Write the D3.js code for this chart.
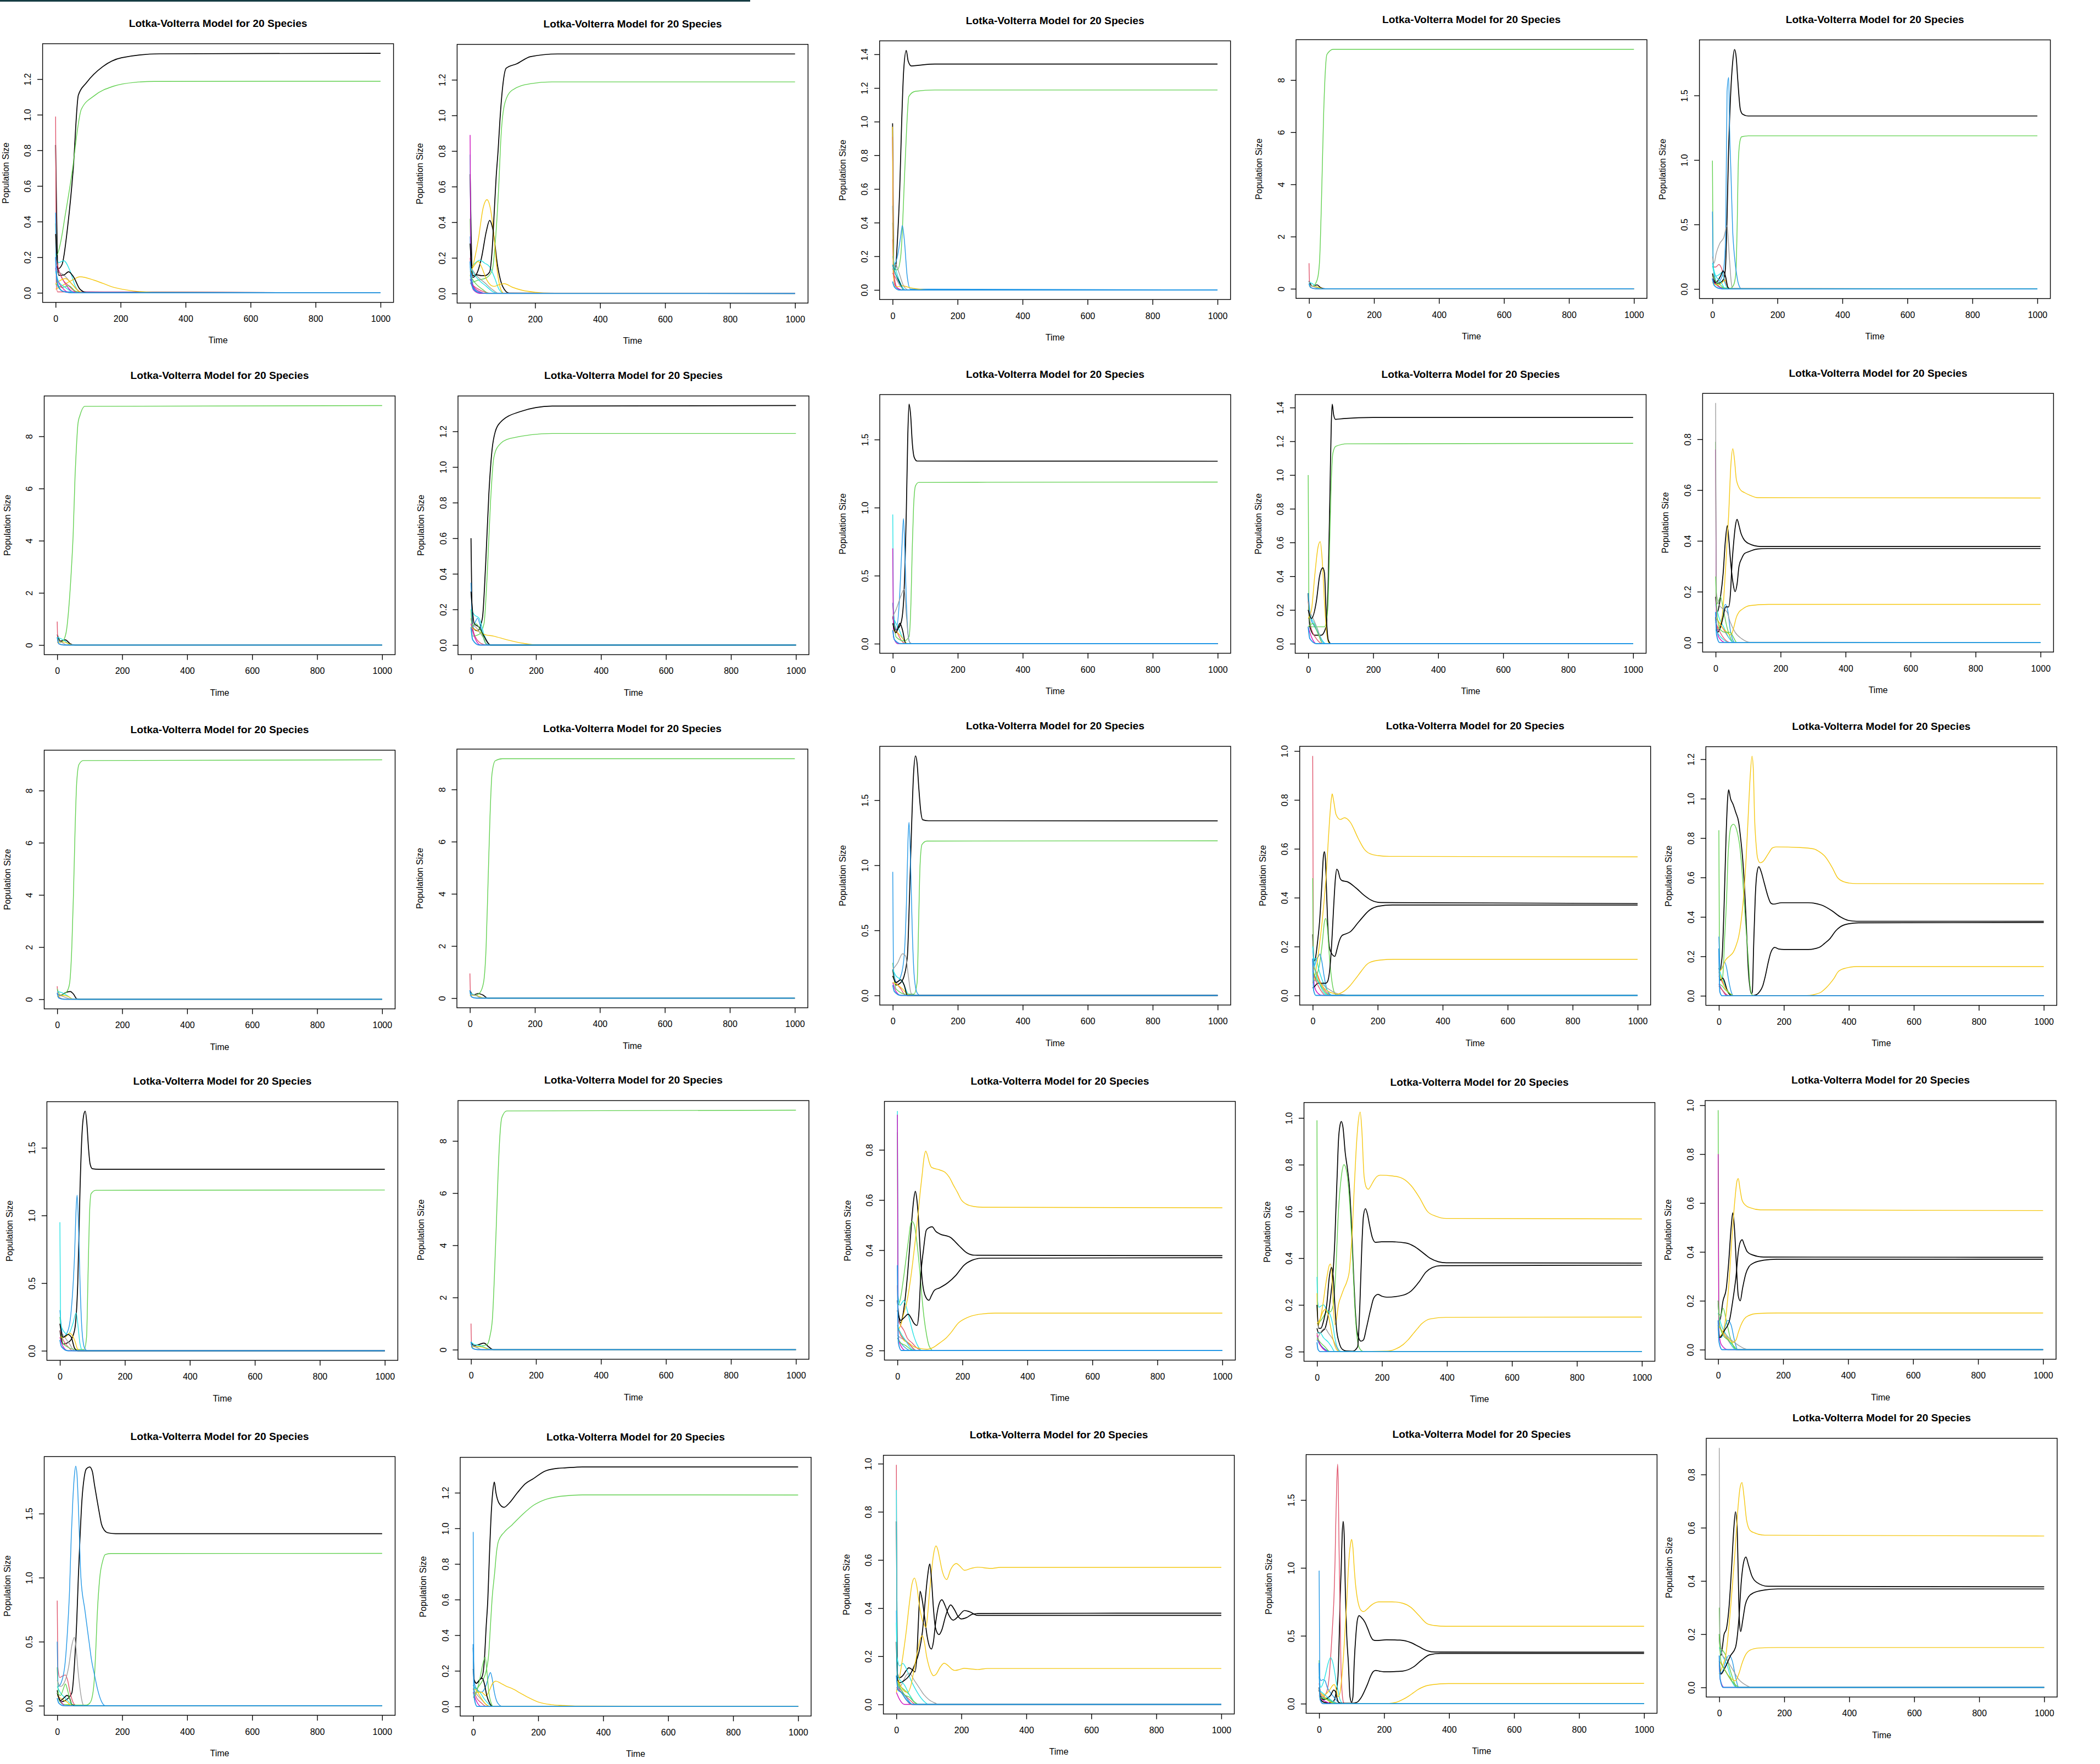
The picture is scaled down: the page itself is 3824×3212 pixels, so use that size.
<!DOCTYPE html>
<html><head><meta charset="utf-8">
<script src="https://cdn.jsdelivr.net/npm/d3@7"></script>
<style>body{margin:0;background:#fff;} svg text{font-family:"Liberation Sans",Arial,sans-serif;fill:#000;}</style>
</head><body>
<svg id="chart" width="3824" height="3212"></svg>
<script>
// ---------- shared values ----------
const titleText = "Lotka-Volterra Model for 20 Species";
const xLabel = "Time";
const yLabel = "Population Size";
const timeTicks = [0, 200, 400, 600, 800, 1000];
// R 4.x default palette, index 1..8
const palette = ["#000000", "#DF536B", "#61D04F", "#2297E6", "#28E2E5", "#CD0BBC", "#F5C710", "#9E9E9E"];

// ---------- data: each series = [colourIndex, [t, y, t, y, ...]] ----------
const panel01 = [
 [1,[0,0.83,8,0.135,20,0.16,37,0.37,54,0.69,70,1.11,95,1.18,145,1.27,203,1.32,320,1.342,1000,1.345]],
 [2,[0,0.99,2,0.05,6,0.005,1000,0]],
 [3,[0,0.39,3,0.21,15,0.28,29,0.43,54,0.72,66,0.9,79,1.03,120,1.108,178,1.16,245,1.182,303,1.187,1000,1.188]],
 [4,[0,0.45,2,0.12,8,0.03,30,0.005,1000,0]],
 [5,[0,0.22,10,0.17,25,0.18,45,0.12,60,0.04,75,0.003,1000,0]],
 [6,[0,0.16,10,0.12,30,0.05,55,0.005,1000,0]],
 [7,[0,0.02,30,0.05,50,0.07,75,0.09,120,0.07,180,0.03,240,0.01,300,0.003,1000,0]],
 [8,[0,0.12,25,0.1,50,0.05,80,0.003,1000,0]],
 [1,[0,0.33,10,0.098,25,0.1,40,0.118,55,0.09,75,0.02,95,0.002,1000,0]],
 [2,[0,0.2,15,0.1,40,0.04,70,0.002,1000,0]],
 [3,[0,0.05,20,0.03,40,0.04,60,0.01,80,0,1000,0]],
 [7,[0,0.05,15,0.07,30,0.08,50,0.05,70,0.01,90,0,1000,0]],
 [6,[0,0.14,5,0.08,20,0.03,45,0,1000,0]],
 [5,[0,0.12,10,0.06,30,0.03,60,0,1000,0]],
 [4,[0,0.2,5,0.06,20,0.01,50,0,1000,0]]
];
const panel02 = [
 [1,[0,0.67,8,0.09,20,0.11,35,0.2,50,0.35,60,0.41,70,0.36,85,0.15,100,0.04,120,0.002,1000,0]],
 [2,[0,0.2,5,0.05,20,0.01,40,0,1000,0]],
 [3,[0,0.42,5,0.063,25,0.075,50,0.088,68,0.13,78,0.3,88,0.6,95,0.88,107,1.07,128,1.14,186,1.178,252,1.188,1000,1.188]],
 [4,[0,0.32,4,0.1,15,0.02,40,0,1000,0]],
 [5,[0,0.78,3,0.15,15,0.17,30,0.187,45,0.17,60,0.15,75,0.09,90,0.02,105,0,1000,0]],
 [6,[0,0.89,2,0.1,10,0.02,30,0,1000,0]],
 [7,[0,0.1,5,0.13,25,0.3,40,0.48,52,0.527,62,0.48,72,0.35,82,0.15,95,0.02,105,0,1000,0]],
 [8,[0,0.15,20,0.1,45,0.06,70,0.02,90,0,1000,0]],
 [1,[0,0.28,8,0.1,20,0.105,35,0.1,45,0.1,60,0.12,68,0.25,74,0.45,80,0.65,86,0.8,92,0.98,99,1.14,111,1.265,144,1.29,186,1.33,269,1.345,1000,1.345]],
 [7,[0,0.12,10,0.15,25,0.18,35,0.15,50,0.08,65,0.045,75,0.04,90,0.05,105,0.055,130,0.035,160,0.018,200,0.007,250,0.002,1000,0]],
 [5,[0,0.15,15,0.1,30,0.07,50,0.04,70,0.01,90,0,1000,0]],
 [2,[0,0.06,20,0.03,50,0.005,70,0,1000,0]],
 [3,[0,0.1,15,0.06,40,0.02,60,0,1000,0]],
 [6,[0,0.08,10,0.04,30,0.01,50,0,1000,0]],
 [4,[0,0.18,4,0.05,20,0.01,50,0,1000,0]]
];
const panel03 = [
 [1,[0,0.99,3,0.15,8,0.12,15,0.3,22,0.6,28,1.0,34,1.3,42,1.423,48,1.36,58,1.331,80,1.335,130,1.342,1000,1.342]],
 [2,[0,0.3,5,0.08,15,0.01,30,0,1000,0]],
 [3,[0,0.4,6,0.12,15,0.12,25,0.2,30,0.35,36,0.64,43,0.95,50,1.15,70,1.18,130,1.188,1000,1.188]],
 [4,[0,0.5,4,0.15,15,0.2,25,0.32,30,0.383,36,0.3,45,0.08,55,0.005,1000,0]],
 [5,[0,0.2,10,0.12,20,0.06,40,0,1000,0]],
 [6,[0,0.91,2,0.1,10,0.02,30,0,1000,0]],
 [7,[0,0.97,2,0.1,8,0.02,20,0.02,30,0.025,50,0.015,80,0.005,110,0.001,1000,0]],
 [8,[0,0.12,10,0.15,20,0.1,35,0.02,50,0,1000,0]],
 [1,[0,0.15,10,0.09,20,0.05,35,0,1000,0]],
 [2,[0,0.1,10,0.07,25,0.02,40,0,1000,0]],
 [5,[0,0.15,8,0.1,20,0.04,40,0,1000,0]],
 [4,[0,0.05,5,0.02,20,0,1000,0]]
];
const panel04 = [
 [1,[0,0.3,10,0.1,25,0.15,35,0.05,50,0,1000,0]],
 [2,[0,0.98,2,0.1,10,0.02,30,0,1000,0]],
 [3,[0,0.2,10,0.1,20,0.2,28,0.5,33,1.2,38,3.2,45,6.7,50,8.3,55,8.98,75,9.18,1000,9.18]],
 [5,[0,0.25,10,0.2,20,0.1,35,0,1000,0]],
 [7,[0,0.1,15,0.1,30,0.05,45,0,1000,0]],
 [8,[0,0.15,15,0.08,30,0,1000,0]],
 [4,[0,0.2,5,0.05,20,0,1000,0]]
];
const panel05 = [
 [1,[0,0.08,10,0.04,25,0.05,35,0.08,40,0.16,45,0.56,49,1.005,55,1.45,62,1.75,68,1.857,73,1.8,78,1.62,86,1.39,93,1.355,110,1.341,1000,1.341]],
 [2,[0,0.17,10,0.17,20,0.19,28,0.16,40,0.05,55,0,1000,0]],
 [3,[0,0.995,2,0.2,10,0.05,30,0.01,55,0.005,65,0.03,72,0.12,76,0.475,80,1.005,85,1.15,90,1.18,110,1.187,1000,1.187]],
 [4,[0,0.6,3,0.15,15,0.05,30,0.1,38,0.25,41,0.475,45,1.53,50,1.64,53,1.23,57,0.9,62,0.47,68,0.25,74,0.12,80,0.04,89,0.002,1000,0]],
 [5,[0,0.18,10,0.1,20,0.11,30,0.13,38,0.05,50,0,1000,0]],
 [6,[0,0.1,10,0.04,25,0.01,40,0,1000,0]],
 [7,[0,0.05,15,0.03,30,0.05,40,0.07,48,0.01,55,0,1000,0]],
 [8,[0,0.25,5,0.2,12,0.28,22,0.35,35,0.4,45,0.49,52,0.25,58,0.05,62,0.005,1000,0]],
 [1,[0,0.12,10,0.05,25,0.1,33,0.14,40,0.1,48,0.01,55,0,1000,0]],
 [5,[0,0.2,10,0.1,25,0.06,40,0,1000,0]],
 [3,[0,0.1,10,0.06,25,0.03,40,0,1000,0]],
 [4,[0,0.08,5,0.03,20,0.005,40,0,1000,0]]
];
const panel06 = [
 [1,[0,0.4,10,0.15,25,0.2,40,0.05,55,0,1000,0]],
 [2,[0,0.9,2,0.1,10,0.02,30,0,1000,0]],
 [3,[0,0.3,10,0.1,20,0.2,29,0.6,38,1.8,45,3.2,49,4.2,55,6.5,58,7.3,64,8.5,70,8.8,85,9.15,1000,9.18]],
 [5,[0,0.3,10,0.25,25,0.15,40,0,1000,0]],
 [7,[0,0.1,20,0.12,35,0.05,50,0,1000,0]],
 [8,[0,0.2,15,0.1,30,0,1000,0]],
 [4,[0,0.3,5,0.05,20,0,1000,0]]
];
const panel07 = [
 [1,[0,0.6,5,0.1,20,0.08,35,0.15,45,0.45,55,0.85,65,1.1,75,1.2,90,1.25,150,1.31,250,1.342,1000,1.345]],
 [2,[0,0.15,10,0.06,30,0.01,50,0,1000,0]],
 [3,[0,0.2,5,0.05,25,0.06,40,0.12,50,0.4,60,0.8,70,1.05,85,1.12,120,1.16,250,1.188,1000,1.188]],
 [4,[0,0.35,5,0.1,20,0.15,30,0.1,45,0.01,60,0,1000,0]],
 [5,[0,0.2,10,0.17,25,0.15,40,0.06,60,0,1000,0]],
 [6,[0,0.12,10,0.05,30,0,1000,0]],
 [7,[0,0.1,20,0.08,40,0.06,70,0.05,110,0.03,160,0.01,210,0,1000,0]],
 [8,[0,0.12,15,0.1,35,0.05,60,0,1000,0]],
 [1,[0,0.3,10,0.12,25,0.1,40,0.05,60,0,1000,0]],
 [3,[0,0.1,15,0.12,30,0.08,50,0,1000,0]],
 [4,[0,0.1,5,0.03,25,0,1000,0]]
];
const panel08 = [
 [1,[0,0.2,10,0.1,25,0.15,33,0.3,38,0.6,42,1.0,46,1.5,50,1.76,55,1.68,60,1.48,66,1.37,75,1.342,1000,1.341]],
 [2,[0,0.2,8,0.12,20,0.05,40,0,1000,0]],
 [3,[0,0.3,10,0.05,35,0.02,50,0.05,56,0.3,60,0.7,64,1.0,70,1.16,80,1.185,1000,1.188]],
 [4,[0,0.3,10,0.1,20,0.3,28,0.7,33,0.92,37,0.7,42,0.3,48,0.05,55,0,1000,0]],
 [5,[0,0.95,2,0.2,10,0.15,20,0.1,35,0.02,50,0,1000,0]],
 [6,[0,0.7,2,0.05,15,0,1000,0]],
 [7,[0,0.1,15,0.08,30,0.04,45,0,1000,0]],
 [8,[0,0.2,10,0.25,25,0.35,35,0.4,42,0.2,50,0.02,60,0,1000,0]],
 [1,[0,0.15,10,0.08,22,0.15,30,0.1,40,0,1000,0]],
 [4,[0,0.1,5,0.03,25,0,1000,0]]
];
const panel09 = [
 [1,[0,0.3,5,0.1,20,0.05,40,0.05,55,0.1,62,0.4,67,0.9,71,1.3,74,1.42,78,1.36,84,1.33,110,1.335,200,1.341,1000,1.341]],
 [2,[0,0.25,8,0.1,25,0.03,45,0,1000,0]],
 [3,[0,1.0,2,0.2,10,0.1,30,0.1,50,0.1,60,0.2,65,0.5,70,0.9,76,1.13,85,1.17,120,1.185,1000,1.188]],
 [4,[0,0.3,8,0.15,20,0.1,35,0.05,50,0,1000,0]],
 [5,[0,0.2,10,0.15,25,0.1,40,0.03,55,0,1000,0]],
 [6,[0,0.1,10,0.04,25,0,1000,0]],
 [7,[0,0.15,10,0.2,20,0.4,30,0.57,37,0.605,43,0.5,50,0.25,57,0.06,65,0,1000,0]],
 [8,[0,0.2,15,0.15,30,0.08,45,0,1000,0]],
 [1,[0,0.2,10,0.15,25,0.25,35,0.4,45,0.45,50,0.42,56,0.15,62,0.02,70,0,1000,0]],
 [3,[0,0.1,15,0.12,30,0.06,45,0,1000,0]],
 [4,[0,0.1,5,0.03,25,0,1000,0]]
];
const panel10 = [
 [1,[0,0.18,5,0.12,15,0.18,23,0.27,30,0.4,36,0.46,41,0.4,46,0.32,54,0.23,60,0.2,66,0.23,72,0.3,80,0.33,89,0.35,101,0.357,130,0.368,160,0.37,1000,0.37]],
 [2,[0,0.1,10,0.08,25,0.05,40,0.02,55,0,1000,0]],
 [3,[0,0.79,2,0.15,8,0.16,15,0.18,25,0.12,35,0.06,45,0.02,55,0,1000,0]],
 [4,[0,0.05,10,0.05,20,0.1,30,0.15,38,0.12,45,0.05,55,0.005,60,0,1000,0]],
 [5,[0,0.15,10,0.1,25,0.06,40,0.02,55,0,1000,0]],
 [6,[0,0.76,2,0.08,10,0.02,30,0,1000,0]],
 [7,[0,0.05,10,0.06,20,0.1,31,0.3,40,0.5,47,0.7,53,0.763,58,0.72,64,0.64,77,0.6,89,0.59,105,0.58,130,0.57,1000,0.569]],
 [8,[0,0.943,2,0.2,10,0.15,25,0.13,35,0.12,45,0.08,60,0.04,80,0.015,105,0.001,1000,0]],
 [1,[0,0.1,5,0.04,15,0.06,23,0.1,31,0.14,40,0.14,46,0.2,50,0.3,56,0.4,61,0.46,66,0.485,72,0.46,78,0.43,85,0.41,101,0.39,138,0.378,1000,0.378]],
 [7,[0,0.1,10,0.08,20,0.06,35,0.04,45,0.03,50,0.035,56,0.06,64,0.1,72,0.12,81,0.13,105,0.145,163,0.15,1000,0.15]],
 [2,[0,0.08,10,0.05,30,0.01,45,0,1000,0]],
 [3,[0,0.26,5,0.1,15,0.05,30,0.04,45,0.04,55,0.02,65,0,1000,0]],
 [5,[0,0.05,10,0.03,25,0.01,40,0,1000,0]],
 [4,[0,0.12,3,0.03,12,0,1000,0]]
];
const panel11 = [
 [1,[0,0.2,10,0.15,25,0.25,40,0.3,50,0.2,60,0.02,70,0,1000,0]],
 [2,[0,0.5,3,0.1,15,0.02,30,0,1000,0]],
 [3,[0,0.4,10,0.15,20,0.2,30,0.3,38,0.6,45,2.0,50,4.0,55,6.5,60,8.3,67,9.0,80,9.15,1000,9.18]],
 [5,[0,0.3,15,0.25,30,0.15,45,0.02,60,0,1000,0]],
 [7,[0,0.1,20,0.15,35,0.1,50,0,1000,0]],
 [8,[0,0.2,15,0.12,30,0.05,45,0,1000,0]],
 [4,[0,0.25,5,0.05,20,0,1000,0]]
];
const panel12 = [
 [1,[0,0.3,10,0.12,25,0.18,40,0.12,55,0,1000,0]],
 [2,[0,0.95,2,0.1,10,0.02,30,0,1000,0]],
 [3,[0,0.2,15,0.1,30,0.2,42,0.6,50,2.0,56,4.5,62,7.0,68,8.6,78,9.1,100,9.18,1000,9.18]],
 [5,[0,0.2,10,0.15,30,0.05,45,0,1000,0]],
 [7,[0,0.1,15,0.12,30,0.06,45,0,1000,0]],
 [8,[0,0.15,20,0.1,35,0,1000,0]],
 [4,[0,0.3,5,0.05,20,0,1000,0]]
];
const panel13 = [
 [1,[0,0.2,10,0.08,25,0.1,35,0.15,45,0.3,52,0.8,58,1.3,64,1.7,70,1.84,75,1.78,80,1.6,86,1.42,92,1.35,110,1.342,1000,1.341]],
 [2,[0,0.15,10,0.1,25,0.05,40,0,1000,0]],
 [3,[0,0.25,10,0.05,40,0.01,65,0.01,75,0.1,80,0.6,84,1.0,90,1.16,105,1.186,1000,1.188]],
 [4,[0,0.95,2,0.2,12,0.1,25,0.15,35,0.3,42,0.7,47,1.2,50,1.33,54,1.1,60,0.5,66,0.15,75,0.02,85,0,1000,0]],
 [5,[0,0.2,10,0.15,25,0.12,35,0.08,45,0.02,55,0,1000,0]],
 [6,[0,0.1,10,0.03,25,0,1000,0]],
 [7,[0,0.1,15,0.08,30,0.05,45,0.01,55,0,1000,0]],
 [8,[0,0.2,15,0.25,30,0.32,40,0.3,48,0.15,56,0.02,65,0,1000,0]],
 [1,[0,0.15,10,0.1,25,0.12,35,0.08,45,0,1000,0]],
 [4,[0,0.08,5,0.03,25,0,1000,0]]
];
const panel14 = [
 [1,[0,0.25,4,0.14,8,0.15,15,0.22,21,0.3,28,0.45,33,0.57,36,0.588,39,0.56,42,0.45,46,0.3,51,0.2,59,0.17,68,0.16,75,0.19,81,0.22,90,0.245,98,0.25,115,0.26,141,0.3,176,0.35,202,0.365,245,0.37,1000,0.37]],
 [2,[0,0.98,2,0.12,10,0.1,25,0.05,45,0.01,60,0,1000,0]],
 [3,[0,0.48,3,0.06,12,0.08,20,0.12,30,0.22,36,0.3,40,0.315,45,0.28,52,0.15,60,0.05,70,0.005,80,0,1000,0]],
 [4,[0,0.2,5,0.12,12,0.15,18,0.16,22,0.17,28,0.14,35,0.08,45,0.02,60,0,1000,0]],
 [5,[0,0.15,10,0.15,20,0.1,30,0.06,45,0.02,60,0,1000,0]],
 [6,[0,0.15,5,0.04,15,0.01,30,0,1000,0]],
 [7,[0,0.05,6,0.08,12,0.12,20,0.2,29,0.3,36,0.4,42,0.5,46,0.59,52,0.72,57,0.8,60,0.825,64,0.8,72,0.74,85,0.72,98,0.727,115,0.71,141,0.64,158,0.6,176,0.58,202,0.572,236,0.569,1000,0.567]],
 [8,[0,0.06,10,0.06,25,0.05,45,0.03,70,0.01,90,0.004,120,0,1000,0]],
 [1,[0,0.03,8,0.04,15,0.05,25,0.05,40,0.05,45,0.055,52,0.1,58,0.2,64,0.35,70,0.48,74,0.517,78,0.51,84,0.48,90,0.47,107,0.465,133,0.44,158,0.41,180,0.39,210,0.38,1000,0.376]],
 [7,[0,0.12,8,0.1,20,0.06,35,0.03,50,0.015,65,0.008,75,0.005,90,0.012,115,0.04,130,0.065,150,0.1,165,0.125,176,0.135,210,0.145,250,0.148,1000,0.148]],
 [2,[0,0.1,10,0.06,25,0.02,40,0,1000,0]],
 [3,[0,0.1,10,0.07,25,0.04,40,0.01,55,0,1000,0]],
 [5,[0,0.2,8,0.1,20,0.05,35,0.01,50,0,1000,0]],
 [4,[0,0.15,3,0.02,10,0,1000,0]]
];
const panel15 = [
 [1,[0,0.14,3,0.13,10,0.2,16,0.45,22,0.8,27,1.0,30,1.045,36,1.0,44,0.97,52,0.93,61,0.88,67,0.8,73,0.7,78,0.58,82,0.45,86,0.3,90,0.15,95,0.05,100,0.01,103,0.02,107,0.25,112,0.5,117,0.62,123,0.655,130,0.63,140,0.57,152,0.5,160,0.47,168,0.465,193,0.472,275,0.472,316,0.46,349,0.43,374,0.4,399,0.382,423,0.378,1000,0.378]],
 [2,[0,0.1,10,0.07,20,0.04,35,0.005,45,0,1000,0]],
 [3,[0,0.84,2,0.1,8,0.08,12,0.1,18,0.3,24,0.5,28,0.7,32,0.8,38,0.86,45,0.87,55,0.84,65,0.75,72,0.62,77,0.5,84,0.33,90,0.2,96,0.05,102,0.005,110,0,1000,0]],
 [4,[0,0.3,5,0.13,12,0.15,18,0.17,24,0.14,30,0.08,38,0.02,45,0,1000,0]],
 [5,[0,0.14,8,0.1,20,0.05,35,0.01,45,0,1000,0]],
 [6,[0,0.06,10,0.03,25,0,1000,0]],
 [7,[0,0.12,10,0.14,20,0.18,32,0.2,44,0.22,52,0.25,61,0.3,70,0.4,77,0.52,84,0.7,90,0.9,96,1.1,102,1.215,106,1.15,110,0.9,115,0.76,119,0.7,127,0.675,135,0.68,152,0.72,165,0.75,176,0.755,250,0.752,292,0.745,310,0.73,325,0.71,349,0.65,365,0.6,385,0.578,400,0.572,423,0.569,1000,0.568]],
 [8,[0,0.05,10,0.03,20,0.01,35,0,1000,0]],
 [1,[0,0.08,6,0.08,12,0.09,18,0.07,25,0.03,35,0.005,45,0,100,0,115,0.005,125,0.02,135,0.05,143,0.1,152,0.17,160,0.22,172,0.245,185,0.237,200,0.235,275,0.235,308,0.245,325,0.265,342,0.29,360,0.33,374,0.35,399,0.365,430,0.37,1000,0.372]],
 [7,[0,0.12,10,0.08,20,0.04,35,0.01,50,0,270,0.001,290,0.005,316,0.02,330,0.04,341,0.06,355,0.09,366,0.12,380,0.135,390,0.14,423,0.148,1000,0.148]],
 [3,[0,0.06,10,0.05,20,0.03,35,0.01,45,0,1000,0]],
 [2,[0,0.05,10,0.03,30,0,1000,0]],
 [4,[0,0.24,3,0.02,10,0,1000,0]]
];
const panel16 = [
 [1,[0,0.15,10,0.05,30,0.07,45,0.15,55,0.5,62,1.2,68,1.6,74,1.75,78,1.77,83,1.68,88,1.5,93,1.38,100,1.345,120,1.341,1000,1.341]],
 [2,[0,0.15,10,0.08,25,0.03,40,0,1000,0]],
 [3,[0,0.25,10,0.05,50,0.01,75,0.01,82,0.1,87,0.6,91,1.0,96,1.16,110,1.186,1000,1.188]],
 [4,[0,0.3,10,0.1,25,0.15,35,0.3,45,0.7,50,1.05,53,1.15,57,0.95,62,0.5,68,0.15,76,0.02,85,0,1000,0]],
 [5,[0,0.95,2,0.2,10,0.15,25,0.12,40,0.2,50,0.28,55,0.2,62,0.05,70,0,1000,0]],
 [6,[0,0.1,10,0.03,25,0,1000,0]],
 [7,[0,0.1,15,0.1,30,0.13,45,0.08,55,0.01,65,0,1000,0]],
 [8,[0,0.15,15,0.1,30,0.05,45,0,1000,0]],
 [1,[0,0.2,10,0.1,25,0.12,35,0.1,45,0.02,55,0,1000,0]],
 [4,[0,0.08,5,0.03,25,0,1000,0]]
];
const panel17 = [
 [1,[0,0.3,10,0.15,25,0.2,40,0.25,55,0.1,70,0,1000,0]],
 [2,[0,1.0,2,0.1,10,0.02,30,0,1000,0]],
 [3,[0,0.2,15,0.1,35,0.15,50,0.2,58,0.5,66,1.2,72,2.8,78,4.8,83,6.6,88,8.0,95,8.9,110,9.15,1000,9.18]],
 [5,[0,0.3,10,0.2,30,0.15,50,0.05,65,0,1000,0]],
 [7,[0,0.1,20,0.12,40,0.08,60,0,1000,0]],
 [8,[0,0.2,15,0.1,35,0,1000,0]],
 [4,[0,0.3,5,0.05,20,0,1000,0]]
];
const panel18 = [
 [1,[0,0.2,4,0.14,10,0.11,18,0.15,25,0.22,31,0.3,37,0.4,43,0.5,50,0.6,55,0.635,60,0.6,65,0.52,70,0.4,75,0.3,85,0.22,97,0.2,105,0.22,114,0.24,130,0.25,155,0.27,180,0.3,205,0.34,230,0.36,260,0.368,1000,0.37]],
 [2,[0,0.26,3,0.12,10,0.1,20,0.08,30,0.05,45,0.03,60,0.01,75,0,1000,0]],
 [3,[0,0.87,2,0.18,8,0.2,20,0.3,28,0.38,35,0.45,40,0.5,45,0.515,52,0.5,60,0.43,68,0.33,75,0.22,82,0.13,90,0.06,97,0.02,110,0,1000,0]],
 [4,[0,0.05,10,0.03,25,0.01,40,0,1000,0]],
 [5,[0,0.955,2,0.22,8,0.18,14,0.19,20,0.2,28,0.17,38,0.12,50,0.06,62,0.02,75,0,1000,0]],
 [6,[0,0.94,2,0.06,10,0.02,25,0,1000,0]],
 [7,[0,0.08,10,0.1,20,0.15,30,0.2,40,0.28,47,0.35,56,0.45,64,0.55,70,0.63,76,0.7,82,0.77,87,0.795,92,0.78,98,0.75,105,0.73,130,0.72,147,0.71,160,0.69,172,0.66,185,0.63,197,0.6,210,0.585,222,0.578,263,0.571,1000,0.569]],
 [8,[0,0.06,10,0.05,25,0.04,40,0.02,60,0,1000,0]],
 [1,[0,0.16,10,0.12,20,0.13,33,0.145,42,0.13,50,0.11,60,0.1,66,0.15,72,0.3,80,0.4,89,0.48,98,0.49,107,0.493,118,0.475,130,0.465,164,0.45,188,0.42,213,0.39,238,0.38,1000,0.378]],
 [7,[0,0.09,10,0.07,20,0.04,35,0.03,50,0.015,70,0.008,90,0.005,110,0.012,130,0.03,150,0.05,164,0.07,188,0.11,213,0.13,255,0.145,300,0.149,1000,0.149]],
 [2,[0,0.1,10,0.06,25,0.04,40,0.02,55,0,1000,0]],
 [3,[0,0.05,10,0.03,25,0.02,40,0.005,55,0,1000,0]],
 [5,[0,0.1,10,0.07,25,0.04,40,0.01,55,0,1000,0]],
 [4,[0,0.34,3,0.03,12,0,1000,0]]
];
const panel19 = [
 [1,[0,0.1,5,0.08,10,0.08,18,0.09,25,0.1,32,0.14,37,0.18,44,0.26,50,0.35,55,0.48,58,0.6,62,0.75,66,0.9,71,0.97,75,0.985,80,0.96,87,0.85,94,0.78,100,0.7,106,0.55,112,0.35,117,0.2,122,0.1,128,0.06,135,0.045,143,0.05,152,0.1,165,0.18,175,0.23,188,0.245,200,0.237,215,0.233,260,0.24,290,0.26,315,0.3,335,0.34,355,0.36,380,0.368,1000,0.37]],
 [2,[0,0.08,5,0.04,15,0.02,30,0.005,45,0,1000,0]],
 [3,[0,0.99,2,0.12,10,0.13,20,0.15,30,0.17,40,0.17,50,0.2,58,0.35,66,0.6,75,0.75,83,0.8,90,0.78,100,0.65,108,0.45,116,0.2,122,0.08,129,0.02,140,0.002,150,0,1000,0]],
 [4,[0,0.05,10,0.03,25,0.01,40,0,1000,0]],
 [5,[0,0.32,2,0.215,6,0.19,12,0.195,20,0.2,30,0.18,40,0.16,48,0.12,55,0.06,62,0.02,75,0,1000,0]],
 [6,[0,0.07,10,0.03,25,0.005,35,0,1000,0]],
 [7,[0,0.25,3,0.11,10,0.14,18,0.2,25,0.27,32,0.33,38,0.37,42,0.375,46,0.32,50,0.2,55,0.115,60,0.14,66,0.2,75,0.24,83,0.27,92,0.3,100,0.35,104,0.42,108,0.5,114,0.68,120,0.85,126,0.97,133,1.025,138,0.95,145,0.75,153,0.7,158,0.695,166,0.71,174,0.73,185,0.75,195,0.755,232,0.752,265,0.74,290,0.71,315,0.66,340,0.6,365,0.58,398,0.57,1000,0.568]],
 [8,[0,0.05,10,0.08,25,0.1,35,0.08,50,0.05,60,0.02,70,0,1000,0]],
 [1,[0,0.2,5,0.1,12,0.1,20,0.13,30,0.2,38,0.32,45,0.36,50,0.32,55,0.2,60,0.1,68,0.04,78,0.01,90,0.003,110,0.002,125,0.02,132,0.2,138,0.45,143,0.58,149,0.612,155,0.59,162,0.54,170,0.49,180,0.468,199,0.47,232,0.47,274,0.465,300,0.45,320,0.43,348,0.4,373,0.385,398,0.38,1000,0.379]],
 [7,[0,0.12,10,0.14,18,0.17,25,0.18,32,0.17,40,0.12,50,0.05,60,0.01,70,0,216,0.002,240,0.01,265,0.03,280,0.05,298,0.08,310,0.1,323,0.12,348,0.14,398,0.147,1000,0.148]],
 [5,[0,0.08,10,0.08,20,0.06,35,0.04,45,0.02,55,0,1000,0]],
 [3,[0,0.06,10,0.04,25,0.02,40,0,1000,0]],
 [4,[0,0.04,3,0.01,10,0,1000,0]]
];
const panel20 = [
 [1,[0,0.2,5,0.12,15,0.2,25,0.25,32,0.35,40,0.5,45,0.56,50,0.5,56,0.35,62,0.22,68,0.2,75,0.25,85,0.31,95,0.34,110,0.355,140,0.366,180,0.37,1000,0.37]],
 [2,[0,0.12,10,0.08,25,0.05,40,0.02,55,0,1000,0]],
 [3,[0,0.98,2,0.15,8,0.14,15,0.17,25,0.12,35,0.06,45,0.02,55,0,1000,0]],
 [4,[0,0.05,10,0.05,20,0.09,30,0.12,40,0.1,50,0.04,60,0,1000,0]],
 [5,[0,0.15,10,0.1,25,0.06,40,0.02,55,0,1000,0]],
 [6,[0,0.8,2,0.08,10,0.02,30,0,1000,0]],
 [7,[0,0.05,10,0.06,20,0.1,32,0.25,42,0.45,52,0.62,58,0.69,62,0.7,67,0.66,74,0.61,85,0.59,100,0.58,130,0.572,1000,0.569]],
 [8,[0,0.1,10,0.08,25,0.06,40,0.04,60,0.02,80,0.005,100,0,1000,0]],
 [1,[0,0.1,5,0.05,20,0.08,35,0.12,45,0.2,55,0.3,62,0.4,68,0.44,74,0.45,80,0.43,90,0.4,105,0.388,140,0.379,1000,0.378]],
 [7,[0,0.1,10,0.08,20,0.06,35,0.04,45,0.03,55,0.04,62,0.07,70,0.1,80,0.125,95,0.14,120,0.148,180,0.15,1000,0.15]],
 [3,[0,0.2,5,0.1,15,0.06,30,0.04,45,0.02,60,0,1000,0]],
 [4,[0,0.12,3,0.03,12,0,1000,0]]
];
const panel21 = [
 [1,[0,0.12,10,0.03,30,0.05,45,0.1,55,0.4,60,0.65,65,1.0,70,1.3,76,1.6,83,1.78,90,1.85,100,1.864,108,1.83,115,1.72,123,1.6,130,1.5,136,1.42,145,1.37,156,1.35,180,1.343,1000,1.343]],
 [2,[0,0.82,2,0.3,8,0.22,15,0.23,25,0.24,32,0.2,40,0.1,50,0.02,60,0,1000,0]],
 [3,[0,0.3,5,0.05,20,0.01,60,0.005,90,0.005,100,0.02,106,0.05,114,0.2,119,0.45,123,0.7,131,1.0,140,1.13,148,1.18,165,1.188,1000,1.189]],
 [4,[0,0.5,3,0.15,15,0.2,25,0.35,32,0.6,38,0.9,43,1.3,48,1.6,53,1.8,57,1.87,61,1.8,66,1.5,73,1.0,85,0.75,98,0.5,106,0.35,114,0.25,125,0.12,139,0.02,148,0,1000,0]],
 [5,[0,0.15,10,0.1,25,0.06,40,0.02,55,0,1000,0]],
 [6,[0,0.1,10,0.04,25,0,1000,0]],
 [7,[0,0.08,15,0.05,30,0.03,45,0,1000,0]],
 [8,[0,0.2,10,0.15,25,0.2,35,0.3,45,0.47,53,0.534,58,0.45,65,0.25,72,0.1,78,0.02,83,0,1000,0]],
 [1,[0,0.1,10,0.04,20,0.06,30,0.08,38,0.06,45,0.01,55,0,1000,0]],
 [3,[0,0.1,10,0.08,20,0.14,25,0.17,32,0.12,40,0.04,50,0,1000,0]],
 [4,[0,0.06,5,0.02,20,0,1000,0]]
];
const panel22 = [
 [1,[0,0.33,3,0.14,10,0.13,20,0.15,28,0.17,34,0.25,40,0.45,45,0.6,50,0.85,56,1.1,61,1.22,65,1.26,70,1.2,80,1.14,95,1.118,110,1.14,136,1.2,160,1.25,186,1.28,219,1.32,250,1.335,286,1.34,336,1.345,1000,1.345]],
 [2,[0,0.1,10,0.05,25,0.02,40,0,1000,0]],
 [3,[0,0.12,10,0.1,20,0.12,30,0.15,40,0.2,48,0.3,53,0.45,58,0.6,66,0.75,72,0.87,78,0.93,95,0.977,120,1.02,153,1.08,186,1.13,219,1.16,269,1.18,336,1.188,1000,1.187]],
 [4,[0,0.98,2,0.15,10,0.1,25,0.08,40,0.12,48,0.17,53,0.19,58,0.16,65,0.08,75,0.02,90,0,1000,0]],
 [5,[0,0.12,10,0.09,20,0.08,35,0.04,50,0.01,65,0,1000,0]],
 [6,[0,0.08,10,0.03,25,0,1000,0]],
 [7,[0,0.07,10,0.08,25,0.08,40,0.06,50,0.09,60,0.13,70,0.142,85,0.13,100,0.115,120,0.1,145,0.075,170,0.05,200,0.025,240,0.01,280,0.005,320,0.002,1000,0]],
 [8,[0,0.1,10,0.07,25,0.04,40,0.01,55,0,1000,0]],
 [1,[0,0.21,3,0.15,10,0.13,20,0.15,28,0.158,34,0.13,42,0.06,50,0.02,60,0,1000,0]],
 [3,[0,0.05,10,0.08,20,0.15,30,0.24,37,0.277,42,0.2,48,0.08,55,0.02,62,0,1000,0]],
 [7,[0,0.1,10,0.09,20,0.06,35,0.02,50,0,1000,0]],
 [4,[0,0.35,3,0.05,12,0,1000,0]]
];
const panel23 = [
 [1,[0,0.76,3,0.13,8,0.11,20,0.12,30,0.14,38,0.152,48,0.145,57,0.135,63,0.2,68,0.35,73,0.47,80,0.43,88,0.35,95,0.28,102,0.24,108,0.23,114,0.26,120,0.33,130,0.41,140,0.435,150,0.41,160,0.375,175,0.35,190,0.365,210,0.39,225,0.385,250,0.37,1000,0.37]],
 [2,[0,0.995,2,0.1,10,0.06,25,0.04,40,0.02,60,0,1000,0]],
 [3,[0,0.12,10,0.08,25,0.06,40,0.04,55,0.01,70,0,1000,0]],
 [4,[0,0.39,3,0.08,15,0.06,30,0.03,50,0,1000,0]],
 [5,[0,0.89,2,0.2,10,0.16,20,0.17,30,0.15,45,0.1,60,0.06,80,0.02,100,0,1000,0]],
 [6,[0,0.05,10,0.02,25,0,1000,0]],
 [7,[0,0.05,8,0.1,20,0.2,30,0.3,40,0.42,48,0.5,56,0.525,63,0.49,72,0.4,80,0.35,86,0.33,91,0.32,96,0.37,101,0.45,108,0.55,114,0.62,122,0.658,128,0.64,134,0.6,142,0.55,155,0.519,167,0.56,177,0.58,185,0.585,195,0.575,210,0.557,230,0.565,250,0.57,290,0.565,320,0.569,1000,0.569]],
 [8,[0,0.06,15,0.08,30,0.12,40,0.13,55,0.1,70,0.07,85,0.04,100,0.02,120,0.005,130,0,1000,0]],
 [1,[0,0.26,4,0.1,10,0.09,25,0.1,40,0.12,55,0.16,70,0.22,80,0.3,88,0.42,95,0.52,103,0.583,108,0.52,114,0.4,120,0.32,131,0.29,140,0.31,150,0.36,160,0.4,167,0.413,178,0.395,190,0.365,200,0.355,215,0.36,235,0.375,260,0.378,1000,0.379]],
 [7,[0,0.1,8,0.09,20,0.06,35,0.05,45,0.08,55,0.15,65,0.22,73,0.27,80,0.285,86,0.26,93,0.2,100,0.16,108,0.13,114,0.119,122,0.125,135,0.155,147,0.171,160,0.16,172,0.145,180,0.141,195,0.145,209,0.15,230,0.147,250,0.145,280,0.149,1000,0.149]],
 [5,[0,0.34,3,0.12,12,0.1,25,0.08,40,0.04,55,0.01,70,0,1000,0]],
 [3,[0,0.1,15,0.06,25,0.04,40,0.03,55,0.01,70,0,1000,0]],
 [2,[0,0.07,15,0.05,30,0.02,45,0,1000,0]],
 [4,[0,0.12,5,0.06,15,0.05,30,0.02,50,0,1000,0]]
];
const panel24 = [
 [1,[0,0.12,5,0.03,15,0.01,30,0.005,45,0.02,52,0.08,58,0.2,62,0.5,65,0.8,68,1.0,71,1.25,74,1.342,77,1.25,81,0.8,85,0.5,90,0.3,95,0.05,100,0.01,104,0.05,108,0.3,113,0.5,118,0.62,123,0.648,130,0.635,141,0.6,150,0.55,158,0.5,166,0.47,174,0.465,207,0.47,249,0.468,282,0.45,307,0.42,332,0.39,357,0.38,1000,0.379]],
 [2,[0,0.15,5,0.08,12,0.05,20,0.07,25,0.1,31,0.2,37,0.4,42,0.6,46,0.8,49,1.05,51,1.3,54,1.6,57,1.764,59,1.6,61,1.2,63,0.9,65,0.6,67,0.3,69,0.15,72,0.05,76,0.005,80,0,1000,0]],
 [3,[0,0.32,3,0.05,15,0.04,30,0.03,45,0.01,60,0,1000,0]],
 [4,[0,0.98,2,0.19,6,0.17,12,0.177,18,0.17,25,0.12,35,0.08,45,0.05,55,0.02,70,0,1000,0]],
 [5,[0,0.2,5,0.12,12,0.15,20,0.22,28,0.3,35,0.339,40,0.32,45,0.27,50,0.2,54,0.14,58,0.1,62,0.05,66,0.02,75,0,1000,0]],
 [6,[0,0.06,10,0.03,25,0.01,35,0,1000,0]],
 [7,[0,0.05,10,0.06,25,0.08,35,0.11,42,0.135,47,0.14,53,0.1,58,0.05,64,0.08,70,0.2,75,0.35,80,0.55,85,0.75,89,0.95,93,1.1,97,1.18,100,1.21,104,1.15,108,1.0,112,0.88,116,0.8,124,0.71,130,0.685,137,0.678,147,0.695,158,0.72,170,0.74,183,0.75,224,0.75,257,0.74,282,0.71,307,0.65,332,0.59,357,0.575,390,0.57,1000,0.57]],
 [8,[0,0.06,10,0.05,25,0.04,40,0.02,55,0.005,70,0,1000,0]],
 [1,[0,0.1,5,0.05,15,0.03,25,0.04,35,0.06,45,0.1,50,0.09,55,0.04,60,0.01,70,0.003,100,0.003,116,0.01,125,0.03,133,0.06,141,0.1,150,0.15,158,0.2,166,0.235,174,0.245,185,0.24,199,0.235,257,0.24,290,0.27,315,0.32,340,0.36,373,0.37,1000,0.37]],
 [7,[0,0.08,10,0.07,20,0.04,35,0.01,50,0,216,0.002,240,0.012,257,0.03,275,0.055,290,0.08,305,0.105,322,0.125,349,0.14,398,0.148,1000,0.149]],
 [5,[0,0.1,10,0.08,25,0.05,40,0.02,55,0,1000,0]],
 [3,[0,0.05,10,0.04,25,0.03,40,0.01,55,0,1000,0]],
 [4,[0,0.3,3,0.03,12,0,1000,0]]
];
const panel25 = [
 [1,[0,0.2,5,0.12,15,0.2,22,0.22,30,0.3,38,0.45,45,0.6,50,0.66,55,0.6,58,0.45,62,0.25,66,0.21,72,0.25,80,0.31,90,0.34,105,0.355,140,0.366,180,0.37,1000,0.37]],
 [2,[0,0.1,10,0.08,25,0.05,40,0.02,55,0,1000,0]],
 [3,[0,0.3,3,0.15,10,0.14,20,0.12,30,0.08,40,0.04,55,0,1000,0]],
 [4,[0,0.05,10,0.06,20,0.1,30,0.12,40,0.1,50,0.04,60,0,1000,0]],
 [5,[0,0.15,10,0.12,25,0.08,40,0.02,55,0,1000,0]],
 [6,[0,0.1,3,0.03,15,0,1000,0]],
 [7,[0,0.05,10,0.08,20,0.12,35,0.3,48,0.5,58,0.68,64,0.75,70,0.77,76,0.72,84,0.63,95,0.59,110,0.58,140,0.572,1000,0.569]],
 [8,[0,0.9,2,0.2,10,0.12,25,0.1,40,0.07,60,0.03,80,0.01,100,0,1000,0]],
 [1,[0,0.1,5,0.05,20,0.08,35,0.12,50,0.15,60,0.25,68,0.4,75,0.47,82,0.49,90,0.46,100,0.42,115,0.395,150,0.38,1000,0.378]],
 [7,[0,0.1,10,0.08,25,0.05,40,0.03,50,0.025,60,0.05,70,0.09,80,0.12,95,0.14,120,0.148,180,0.15,1000,0.15]],
 [3,[0,0.2,5,0.1,20,0.06,35,0.03,50,0.01,65,0,1000,0]],
 [4,[0,0.12,3,0.03,12,0,1000,0]]
];

const panels = [panel01,panel02,panel03,panel04,panel05,panel06,panel07,panel08,panel09,panel10,
  panel11,panel12,panel13,panel14,panel15,panel16,panel17,panel18,panel19,panel20,
  panel21,panel22,panel23,panel24,panel25];

// ---------- layout (plot-box top-left corners, px) ----------
const boxOrigins = [
 [77.6,79.6],[832.4,80.8],[1601.7,74.4],[2360,72.3],[3094.6,72.6],
 [80.5,721],[834,721],[1602,718.5],[2358.5,718.5],[3100.4,716.3],
 [80.5,1366],[832,1364],[1602,1359],[2366.7,1359],[3106.3,1359.6],
 [85.4,2006],[834,2004],[1610.5,2005.5],[2374.5,2007.6],[3105,2004],
 [80.5,2652.3],[838,2653.6],[1608.6,2649.9],[2378.4,2648.6],[3107,2619]
];
const BOX_W = 639, BOX_H = 471;

// ---------- drawing ----------
const svg = d3.select("#chart");
svg.append("rect").attr("width", 3824).attr("height", 3212).attr("fill", "#ffffff");
svg.append("rect").attr("x", 0).attr("y", 0).attr("width", 1366).attr("height", 3).attr("fill", "#163c43");

panels.forEach((series, i) => {
  const [bx, by] = boxOrigins[i];
  const w = BOX_W, h = BOX_H;
  const g = svg.append("g").attr("transform", `translate(${bx},${by})`);

  const curves = series.map(([c, flat]) => {
    const pts = [];
    for (let k = 0; k < flat.length; k += 2) pts.push([flat[k], flat[k + 1]]);
    return { c, pts };
  });
  const ymax = d3.max(curves, s => d3.max(s.pts, d => d[1]));

  const x = d3.scaleLinear().domain([-40, 1040]).range([0, w]);
  const y = d3.scaleLinear().domain([-0.04 * ymax, 1.04 * ymax]).range([h, 0]);
  const line = d3.line().x(d => x(d[0])).y(d => y(d[1])).curve(d3.curveMonotoneX);

  curves.forEach((s, k) => {
    const last = k === curves.length - 1;
    g.append("path")
      .attr("d", line(s.pts))
      .attr("fill", "none")
      .attr("stroke", palette[s.c - 1])
      .attr("stroke-width", last ? 1.9 : (s.c === 1 ? 1.7 : 1.4))
      .attr("stroke-linejoin", "round");
  });

  g.append("rect").attr("x", 0).attr("y", 0).attr("width", w).attr("height", h)
    .attr("fill", "none").attr("stroke", "#000").attr("stroke-width", 1.4);

  // x axis
  const xa = g.append("g").attr("transform", `translate(0,${h})`)
    .call(d3.axisBottom(x).tickValues(timeTicks).tickSize(9.6).tickSizeOuter(0).tickPadding(14.3).tickFormat(d3.format("d")));
  xa.select(".domain").remove();
  xa.selectAll("line").attr("stroke", "#000").attr("stroke-width", 1.4);
  xa.selectAll("text").attr("font-size", 16).attr("font-family", "Liberation Sans, Arial, sans-serif").attr("fill", "#000");
  xa.attr("font-size", null).attr("font-family", null);

  // y axis
  const yd = y.domain();
  const yt = d3.ticks(yd[0], yd[1], 5).map(v => Math.abs(v) < 1e-9 ? 0 : v).filter(v => v >= 0);
  const step = yt.length > 1 ? yt[1] - yt[0] : 1;
  const fmt = step < 1 ? d3.format(".1f") : d3.format("d");
  const ya = g.append("g")
    .call(d3.axisLeft(y).tickValues(yt).tickSize(9.6).tickSizeOuter(0).tickFormat(fmt));
  ya.select(".domain").remove();
  ya.selectAll("line").attr("stroke", "#000").attr("stroke-width", 1.4);
  ya.selectAll("text")
    .attr("x", null).attr("dy", null)
    .attr("text-anchor", "middle")
    .attr("transform", "translate(-21.5,0) rotate(-90)")
    .attr("font-size", 16).attr("font-family", "Liberation Sans, Arial, sans-serif").attr("fill", "#000");
  ya.attr("font-size", null).attr("font-family", null);

  // labels
  g.append("text").attr("x", w / 2).attr("y", -30.6).attr("text-anchor", "middle")
    .attr("font-weight", "bold").attr("font-size", 19.2).text(titleText);
  g.append("text").attr("x", w / 2).attr("y", h + 74.6).attr("text-anchor", "middle")
    .attr("font-size", 16).text(xLabel);
  g.append("text").attr("transform", `translate(-62,${h / 2}) rotate(-90)`).attr("text-anchor", "middle")
    .attr("font-size", 16).text(yLabel);
});
</script>
</body></html>
